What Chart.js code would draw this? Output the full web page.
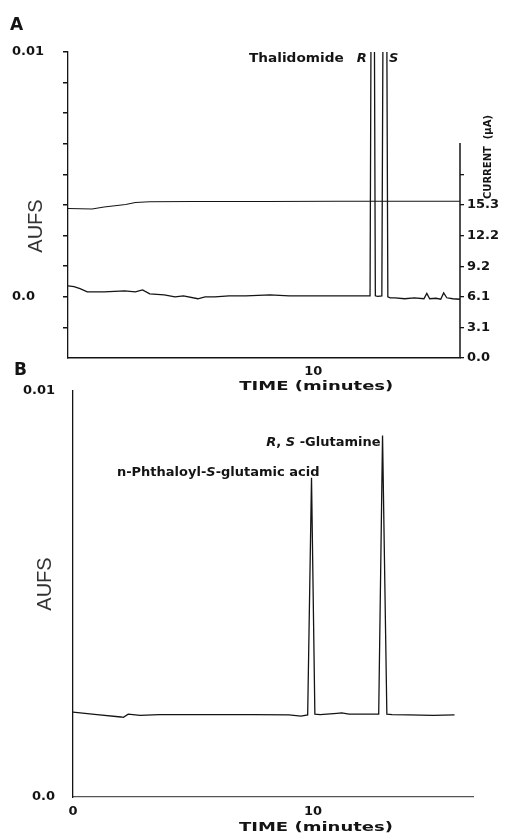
<!DOCTYPE html>
<html><head><meta charset="utf-8">
<script src="https://cdn.jsdelivr.net/npm/chart.js@4.4.1/dist/chart.umd.min.js"></script>
<style>
html,body{margin:0;padding:0;background:#fff;width:519px;height:837px;overflow:hidden}
#cA{position:absolute;left:0;top:0}
#cB{position:absolute;left:0;top:380px}
</style></head><body>
<canvas id="cA" width="519" height="400"></canvas>
<canvas id="cB" width="519" height="457"></canvas>
<script>
// ---------- Panel A: thalidomide chromatogram (AUFS) ----------
const timeA = [-0.2, 0.05, 0.3, 0.6, 1.3, 2.15, 2.6, 2.9, 3.2, 3.8, 4.25, 4.6, 5.2, 5.5, 5.9, 6.5, 7.2, 8.2, 9.0, 9.9, 11.1, 12.0,
  12.36, 12.47, 12.58, 12.68, 12.85, 12.98, 13.1, 13.2, 13.4, 13.8, 14.2, 14.6, 14.72, 14.84, 15.1, 15.3, 15.42, 15.55, 15.8, 16.1];
const aufsA = [0.00045, 0.00042, 0.00033, 0.0002, 0.0002, 0.00024, 0.0002, 0.00028, 0.00012, 0.00008, 0.0, 0.00004, -0.00008, 0.0, 0.0, 0.00004, 0.00004, 0.00008, 0.00004, 0.00004, 0.00004, 0.00004,
  0.00004, 0.03, 0.00004, 0.00002, 0.00004, 0.03, 0.0, -0.00004, -0.00004, -0.00008, -0.00004, -0.00008, 0.00014, -0.00008, -0.00006, -0.0001, 0.00016, -0.00004, -0.00008, -0.0001];
// Panel A: electrode current trace (µA, right axis)
const currentTimeA = [-0.2, 0.8, 1.3, 2.2, 2.6, 3.2, 5.0, 8.0, 11.0, 14.0, 16.1];
const currentA = [14.95, 14.9, 15.1, 15.35, 15.55, 15.62, 15.65, 15.65, 15.68, 15.68, 15.68];

// ---------- Panel B: hydrolysis products chromatogram (AUFS) ----------
const timeB = [0, 1.0, 2.0, 2.1, 2.3, 2.8, 3.6, 5.5, 7.5, 9.0, 9.5, 9.78, 9.94, 10.08, 10.3, 11.0, 11.2, 11.5, 12.5, 12.74, 12.9, 13.08, 13.3, 14.0, 15.0, 15.9];
const aufsB = [0.00209, 0.00203, 0.00197, 0.00196, 0.00204, 0.00201, 0.00203, 0.00203, 0.00203, 0.00202, 0.00199, 0.00202, 0.00786, 0.00204, 0.00203, 0.00206, 0.00207, 0.00204, 0.00204, 0.00204, 0.0089, 0.00204, 0.00203, 0.00202, 0.00201, 0.00202];

// ---------- Ticks ----------
const xTicksA = [10];
const xTickLabelsA = ['10'];
const yTicksA = [-0.00125, 0, 0.00125, 0.0025, 0.00375, 0.005, 0.00625, 0.0075, 0.00875, 0.01];
const yTickLabelsA = ['', '0.0', '', '', '', '', '', '', '', '0.01'];
const currentTicks = [0, 3.06, 6.12, 9.18, 12.24, 15.3, 18.36];
const currentTickLabels = ['0.0', '3.1', '6.1', '9.2', '12.2', '15.3', ''];
const currentAxisTop = 21.5;
const xTicksB = [0, 10];
const xTickLabelsB = ['0', '10'];
const yTicksB = [0, 0.01];
const yTickLabelsB = ['0.0', '0.01'];

// ---------- Labels ----------
const peakR = 12.47, peakS = 12.98, peakP1 = 9.94, peakP2 = 12.9;

const INK = '#141414';
const BOLD = 'bold 13px "DejaVu Sans"';
const BOLDIT = 'italic bold 13px "DejaVu Sans"';
const tickFont = {family: 'DejaVu Sans', size: 13, weight: 'bold'};

function pts(xs, ys) { return xs.map((x, i) => ({x: x, y: ys[i]})); }

function drawSegs(ctx, segs, x, y, align, sx) {
  sx = sx || 1;
  let w = 0;
  segs.forEach(s => { ctx.font = s.f; w += ctx.measureText(s.t).width; });
  ctx.save();
  ctx.translate(x, y);
  ctx.scale(sx, 1);
  let cx = align === 'right' ? -w : (align === 'center' ? -w / 2 : 0);
  ctx.textAlign = 'left';
  segs.forEach(s => { ctx.font = s.f; ctx.fillText(s.t, cx, 0); cx += ctx.measureText(s.t).width; });
  ctx.restore();
}
function drawRot(ctx, text, font, x, y) {
  ctx.save();
  ctx.translate(x, y);
  ctx.rotate(-Math.PI / 2);
  ctx.font = font;
  ctx.textAlign = 'center';
  ctx.textBaseline = 'middle';
  ctx.fillText(text, 0, 0);
  ctx.restore();
}

const common = {
  responsive: false,
  animation: false,
  devicePixelRatio: 1,
  plugins: {legend: {display: false}, tooltip: {enabled: false}},
  elements: {point: {radius: 0}, line: {tension: 0}}
};

// ---------- Chart A ----------
const annotA = {
  id: 'annotA',
  afterDraw(chart) {
    const ctx = chart.ctx, xs = chart.scales.x, y2 = chart.scales.y2;
    ctx.save();
    ctx.fillStyle = INK;
    ctx.textBaseline = 'alphabetic';
    drawSegs(ctx, [{t: 'A', f: 'bold 17px "DejaVu Sans"'}], 10, 30, 'left');
    drawSegs(ctx, [{t: 'B', f: 'bold 17px "DejaVu Sans"'}], 14, 375, 'left');
    const xR = xs.getPixelForValue(peakR), xS = xs.getPixelForValue(peakS);
    drawSegs(ctx, [{t: 'Thalidomide', f: BOLD}], xR - 29, 62, 'right', 1.05);
    drawSegs(ctx, [{t: 'R', f: BOLDIT}], xR - 16, 62, 'left');
    drawSegs(ctx, [{t: 'S', f: BOLDIT}], xS + 4, 62, 'left');
    ctx.textBaseline = 'middle';
    drawSegs(ctx, [{t: 'TIME (minutes)', f: 'bold 12px "DejaVu Sans"'}], xs.getPixelForValue(10) + 3, 387, 'center', 1.5);
    ctx.fillStyle = '#333';
    drawRot(ctx, 'AUFS', '20px "Liberation Sans"', 36, 226);
    ctx.fillStyle = INK;
    drawRot(ctx, 'CURRENT  (µA)', 'bold 10px "DejaVu Sans"', 488, 157);
    // right (current) axis line
    ctx.strokeStyle = INK;
    ctx.lineWidth = 1.5;
    ctx.beginPath();
    ctx.moveTo(y2.left, y2.getPixelForValue(0));
    ctx.lineTo(y2.left, y2.getPixelForValue(currentAxisTop));
    ctx.stroke();
    ctx.restore();
  }
};

new Chart(document.getElementById('cA'), {
  type: 'line',
  data: {
    datasets: [
      {data: pts(timeA, aufsA), yAxisID: 'y', borderColor: INK, borderWidth: 1.3, pointRadius: 0},
      {data: pts(currentTimeA, currentA), yAxisID: 'y2', borderColor: INK, borderWidth: 1.1, pointRadius: 0}
    ]
  },
  options: Object.assign({}, common, {
    layout: {padding: {left: 12, top: 52, right: 0, bottom: 0}},
    scales: {
      x: {
        type: 'linear', min: -0.2, max: 16.1,
        afterBuildTicks: s => { s.ticks = xTicksA.map(v => ({value: v})); },
        afterFit: s => { s.height = 42; },
        ticks: {autoSkip: false, maxRotation: 0, padding: 6, color: INK, font: tickFont,
          callback: (v, i) => xTickLabelsA[i]},
        grid: {drawOnChartArea: false, drawTicks: false},
        border: {color: INK, width: 1.5}
      },
      y: {
        position: 'left', min: -0.0025, max: 0.01,
        afterBuildTicks: s => { s.ticks = yTicksA.map(v => ({value: v})); },
        afterFit: s => { s.width = 56; },
        ticks: {autoSkip: false, crossAlign: 'far', color: INK, font: tickFont,
          callback: (v, i) => yTickLabelsA[i]},
        grid: {drawOnChartArea: false, drawTicks: true, tickLength: 5, color: INK, lineWidth: 1.5},
        border: {color: INK, width: 1.3}
      },
      y2: {
        position: 'right', min: 0, max: 30.6,
        afterBuildTicks: s => { s.ticks = currentTicks.map(v => ({value: v})); },
        afterFit: s => { s.width = 59; },
        ticks: {autoSkip: false, padding: 3, color: INK, font: tickFont,
          callback: (v, i) => currentTickLabels[i]},
        grid: {drawOnChartArea: false, drawTicks: true, tickLength: 4, color: INK, lineWidth: 1.3},
        border: {display: false}
      }
    }
  }),
  plugins: [annotA]
});

// ---------- Chart B ----------
const annotB = {
  id: 'annotB',
  afterDraw(chart) {
    const ctx = chart.ctx, xs = chart.scales.x;
    ctx.save();
    ctx.fillStyle = INK;
    ctx.textBaseline = 'alphabetic';
    const x1 = xs.getPixelForValue(peakP1), x2 = xs.getPixelForValue(peakP2);
    drawSegs(ctx, [{t: 'R', f: BOLDIT}, {t: ', ', f: BOLD}, {t: 'S', f: BOLDIT}, {t: ' -Glutamine', f: BOLD}], x2 - 2, 66, 'right');
    drawSegs(ctx, [{t: 'n-Phthaloyl-', f: BOLD}, {t: 'S', f: BOLDIT}, {t: '-glutamic acid', f: BOLD}], x1 + 8, 96, 'right');
    ctx.textBaseline = 'middle';
    drawSegs(ctx, [{t: 'TIME (minutes)', f: 'bold 12px "DejaVu Sans"'}], xs.getPixelForValue(10) + 3, 448, 'center', 1.5);
    ctx.fillStyle = '#333';
    drawRot(ctx, 'AUFS', '20px "Liberation Sans"', 45, 204);
    ctx.restore();
  }
};

new Chart(document.getElementById('cB'), {
  type: 'line',
  data: {
    datasets: [
      {data: pts(timeB, aufsB), borderColor: INK, borderWidth: 1.3, pointRadius: 0}
    ]
  },
  options: Object.assign({}, common, {
    layout: {padding: {left: 0, top: 10, right: 46, bottom: 0}},
    scales: {
      x: {
        type: 'linear', min: 0, max: 16.67,
        afterBuildTicks: s => { s.ticks = xTicksB.map(v => ({value: v})); },
        afterFit: s => { s.height = 40; },
        ticks: {autoSkip: false, maxRotation: 0, padding: 7, color: INK, font: tickFont,
          callback: (v, i) => xTickLabelsB[i]},
        grid: {drawOnChartArea: false, drawTicks: false},
        border: {color: '#555', width: 1.2, dash: [10, 6]}
      },
      y: {
        position: 'left', min: 0, max: 0.01,
        afterBuildTicks: s => { s.ticks = yTicksB.map(v => ({value: v})); },
        afterFit: s => { s.width = 73; },
        ticks: {autoSkip: false, padding: 3, color: INK, font: tickFont,
          callback: (v, i) => yTickLabelsB[i]},
        grid: {drawOnChartArea: false, drawTicks: true, tickLength: 15, color: 'rgba(0,0,0,0)'},
        border: {color: INK, width: 1.3}
      }
    }
  }),
  plugins: [annotB]
});
</script>
</body></html>
